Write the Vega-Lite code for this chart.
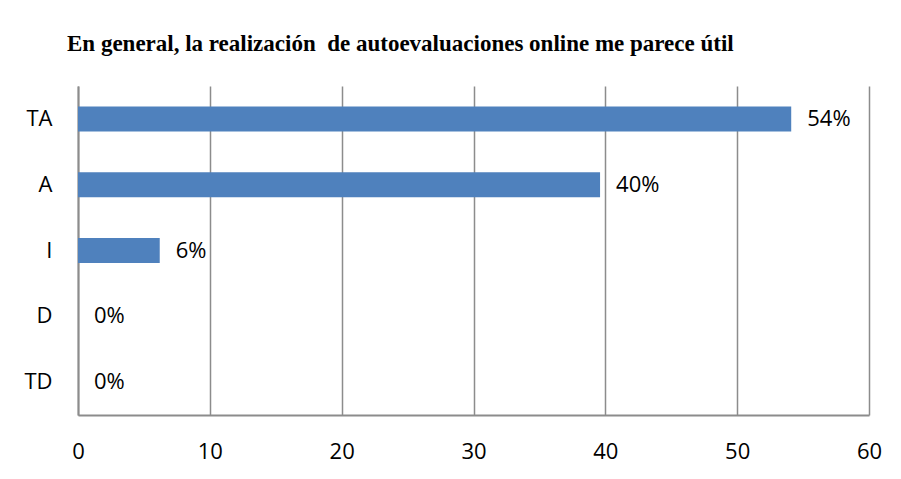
{
  "$schema": "https://vega.github.io/schema/vega-lite/v6.json",
  "width": 791,
  "height": 329,
  "autosize": "none",
  "padding": {"left": 78, "top": 86, "right": 32, "bottom": 64},
  "background": "white",
  "title": {
    "text": "En general, la realización\u00a0 de autoevaluaciones online me parece útil",
    "anchor": "start",
    "frame": "group",
    "dx": -11,
    "offset": 30,
    "font": "Liberation Serif",
    "fontSize": 23,
    "fontWeight": "bold",
    "color": "black"
  },
  "data": {
    "values": [
      {"cat": "TA", "value": 54.1, "label": "54%"},
      {"cat": "A", "value": 39.6, "label": "40%"},
      {"cat": "I", "value": 6.2, "label": "6%"},
      {"cat": "D", "value": 0, "label": "0%"},
      {"cat": "TD", "value": 0, "label": "0%"}
    ]
  },
  "encoding": {
    "y": {
      "field": "cat",
      "type": "nominal",
      "sort": ["TA", "A", "I", "D", "TD"],
      "scale": {"paddingInner": 0.62, "paddingOuter": 0.31},
      "axis": {
        "title": null,
        "ticks": false,
        "labelPadding": 26,
        "labelFont": "Open Sans",
        "labelFontSize": 22,
        "labelColor": "black",
        "domainColor": "#8c8c8c",
        "domainWidth": 2
      }
    }
  },
  "layer": [
    {
      "mark": {"type": "bar", "color": "#4F81BD"},
      "encoding": {
        "x": {
          "field": "value",
          "type": "quantitative",
          "scale": {"domain": [0, 60], "nice": false},
          "axis": {
            "title": null,
            "values": [0, 10, 20, 30, 40, 50, 60],
            "ticks": false,
            "labelFlush": false,
            "labelPadding": 26,
            "labelFont": "Open Sans",
            "labelFontSize": 22,
            "labelColor": "black",
            "grid": true,
            "gridColor": "#8c8c8c",
            "gridWidth": 1.5,
            "domainColor": "#8c8c8c",
            "domainWidth": 2
          }
        }
      }
    },
    {
      "mark": {"type": "text", "align": "left", "baseline": "middle", "dx": 16, "font": "Open Sans", "fontSize": 22, "color": "black"},
      "encoding": {
        "x": {"field": "value", "type": "quantitative"},
        "text": {"field": "label"}
      }
    }
  ],
  "config": {"view": {"stroke": null}}
}
